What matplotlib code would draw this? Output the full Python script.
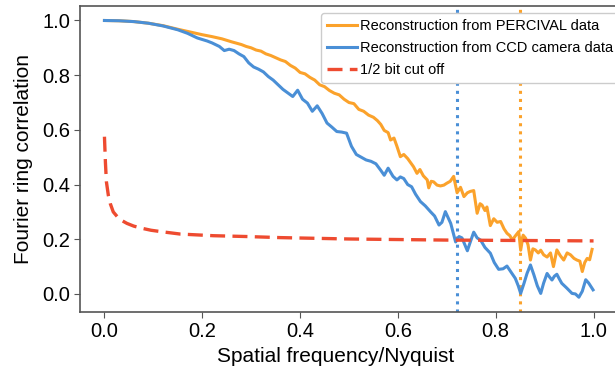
import numpy as np
import matplotlib
matplotlib.use("Agg")
import matplotlib.pyplot as plt

plt.rcParams["font.family"] = ["Liberation Sans", "DejaVu Sans"]

# PERCIVAL reconstruction FRC
x_percival = [0.00, 0.03, 0.06, 0.09, 0.12, 0.15, 0.18, 0.20, 0.22, 0.24, 0.26, 0.28, 0.29, 0.30,
              0.31, 0.32, 0.33, 0.34, 0.35, 0.36, 0.37, 0.38, 0.39, 0.40, 0.41, 0.42, 0.43, 0.44,
              0.45, 0.46, 0.47, 0.48, 0.49, 0.50, 0.51, 0.52, 0.53, 0.54, 0.55, 0.558, 0.565,
              0.572, 0.58, 0.585, 0.592, 0.598, 0.605, 0.612, 0.62, 0.626, 0.632, 0.639, 0.645,
              0.652, 0.66, 0.663, 0.668, 0.673, 0.68, 0.687, 0.694, 0.70, 0.707, 0.714, 0.721,
              0.728, 0.735, 0.742, 0.748, 0.755, 0.762, 0.768, 0.772, 0.778, 0.782, 0.789, 0.796,
              0.803, 0.81, 0.817, 0.823, 0.829, 0.834, 0.84, 0.847, 0.851, 0.856, 0.861, 0.866,
              0.871, 0.876, 0.881, 0.887, 0.892, 0.898, 0.905, 0.912, 0.918, 0.925, 0.932, 0.939,
              0.946, 0.953, 0.96, 0.966, 0.972, 0.977, 0.982, 0.987, 0.992, 0.997]
frc_percival = [1.000, 0.999, 0.996, 0.990, 0.981, 0.968, 0.956, 0.948, 0.941, 0.933, 0.922, 0.912,
                0.905, 0.900, 0.892, 0.888, 0.878, 0.872, 0.864, 0.856, 0.850, 0.836, 0.826, 0.810,
                0.805, 0.792, 0.782, 0.765, 0.758, 0.744, 0.734, 0.728, 0.712, 0.700, 0.696, 0.675,
                0.668, 0.654, 0.646, 0.634, 0.620, 0.598, 0.590, 0.563, 0.570, 0.540, 0.502, 0.510,
                0.495, 0.480, 0.465, 0.441, 0.455, 0.432, 0.417, 0.388, 0.412, 0.410, 0.398, 0.395,
                0.398, 0.405, 0.412, 0.430, 0.370, 0.390, 0.356, 0.370, 0.375, 0.378, 0.295, 0.330,
                0.325, 0.305, 0.318, 0.250, 0.275, 0.262, 0.265, 0.238, 0.222, 0.213, 0.197, 0.212,
                0.228, 0.160, 0.215, 0.204, 0.180, 0.124, 0.165, 0.161, 0.150, 0.160, 0.143, 0.135,
                0.150, 0.100, 0.161, 0.140, 0.124, 0.150, 0.143, 0.130, 0.124, 0.120, 0.082, 0.115,
                0.130, 0.125, 0.163]

# CCD camera reconstruction FRC
x_ccd = [0.00, 0.03, 0.06, 0.09, 0.12, 0.15, 0.17, 0.19, 0.21, 0.22, 0.235, 0.245, 0.255, 0.265,
         0.275, 0.285, 0.295, 0.305, 0.315, 0.325, 0.335, 0.345, 0.355, 0.365, 0.375, 0.385,
         0.395, 0.405, 0.415, 0.425, 0.435, 0.445, 0.455, 0.465, 0.475, 0.485, 0.495, 0.505,
         0.515, 0.525, 0.535, 0.545, 0.555, 0.565, 0.572, 0.58, 0.59, 0.598, 0.605, 0.612, 0.62,
         0.628, 0.636, 0.646, 0.656, 0.667, 0.675, 0.684, 0.69, 0.697, 0.708, 0.718, 0.725,
         0.731, 0.742, 0.748, 0.755, 0.762, 0.769, 0.778, 0.789, 0.797, 0.806, 0.815, 0.823,
         0.832, 0.840, 0.846, 0.851, 0.858, 0.864, 0.871, 0.878, 0.885, 0.892, 0.898, 0.905,
         0.91, 0.915, 0.92, 0.925, 0.93, 0.935, 0.945, 0.956, 0.963, 0.97, 0.977, 0.984, 0.99,
         0.999]
frc_ccd = [1.000, 0.999, 0.996, 0.990, 0.980, 0.966, 0.953, 0.936, 0.925, 0.918, 0.905, 0.890,
           0.895, 0.890, 0.878, 0.868, 0.845, 0.830, 0.822, 0.812, 0.795, 0.782, 0.765, 0.748,
           0.735, 0.722, 0.745, 0.712, 0.698, 0.668, 0.688, 0.660, 0.625, 0.610, 0.594, 0.592,
           0.588, 0.540, 0.510, 0.500, 0.490, 0.485, 0.476, 0.452, 0.434, 0.460, 0.430, 0.417,
           0.428, 0.422, 0.400, 0.392, 0.365, 0.338, 0.322, 0.300, 0.285, 0.252, 0.262, 0.301,
           0.258, 0.190, 0.210, 0.205, 0.158, 0.190, 0.226, 0.205, 0.197, 0.170, 0.149, 0.115,
           0.090, 0.092, 0.102, 0.078, 0.057, 0.030, 0.002, 0.040, 0.075, 0.106, 0.070, 0.030,
           0.002, 0.040, 0.075, 0.062, 0.051, 0.065, 0.072, 0.055, 0.039, 0.022, 0.002, 0.000,
           -0.012, 0.010, 0.052, 0.040, 0.015]

# 1/2 bit threshold curve
x_half_bit = [0.0, 0.002, 0.004, 0.008, 0.012, 0.018, 0.026, 0.036, 0.046, 0.06, 0.077, 0.095,
              0.115, 0.155, 0.223, 0.29, 0.36, 0.5, 0.6, 0.7, 0.8, 0.9, 1.0]
half_bit = [0.575, 0.48, 0.41, 0.36, 0.33, 0.30, 0.283, 0.268, 0.258, 0.248, 0.240, 0.233, 0.228,
            0.219, 0.213, 0.210, 0.206, 0.201, 0.199, 0.197, 0.196, 0.195, 0.194]

cutoff_ccd = 0.72
cutoff_percival = 0.85

c_orange = "#fba22b"
c_blue = "#4a8fd6"
c_red = "#ee4b30"

fig = plt.figure(figsize=(6.15, 3.76), dpi=100)
ax = fig.add_axes([80 / 615, 64 / 376, 538 / 615, 306 / 376])

ax.axvline(cutoff_ccd, color=c_blue, ls=":", lw=2.2)
ax.axvline(cutoff_percival, color=c_orange, ls=":", lw=2.2)
ax.plot(x_percival, frc_percival, color=c_orange, lw=2.2, label="Reconstruction from PERCIVAL data")
ax.plot(x_ccd, frc_ccd, color=c_blue, lw=2.2, label="Reconstruction from CCD camera data")
ax.plot(x_half_bit, half_bit, color=c_red, lw=2.4, ls=(0, (4.5, 2.2)), label="1/2 bit cut off")

ax.set_xlim(-0.05, 1.05)
ax.set_ylim(-0.066, 1.053)
ax.set_xticks(np.arange(0, 1.01, 0.2))
ax.set_yticks(np.arange(0, 1.01, 0.2))
ax.set_xlabel("Spatial frequency/Nyquist", fontsize=15)
ax.xaxis.set_label_coords((336 - 80) / 538, -0.115)
ax.set_ylabel("Fourier ring correlation", fontsize=15, labelpad=7)
ax.tick_params(labelsize=14.5, length=4, color="#555555", pad=3)
for sp in ax.spines.values():
    sp.set_color("#555555")
    sp.set_linewidth(1.2)

leg = ax.legend(loc="upper left", bbox_to_anchor=(321 / 615, 1 - 13 / 376),
                bbox_transform=fig.transFigure, borderaxespad=0, fontsize=10.5,
                handlelength=2.1, handletextpad=0.15, labelspacing=0.55,
                borderpad=0.4, framealpha=1, edgecolor="#cccccc")

fig.savefig("out.png", dpi=100)
